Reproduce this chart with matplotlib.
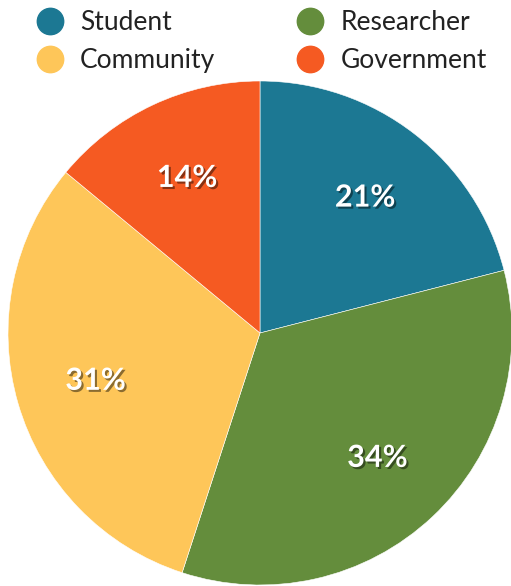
import matplotlib.pyplot as plt
import matplotlib.patheffects as pe
from matplotlib.lines import Line2D

categories = ['Student', 'Researcher', 'Community', 'Government']
shares = [21, 34, 31, 14]
colors = ['#1c7893', '#648d3c', '#fec659', '#f55a22']

plt.rcParams['font.family'] = ['Lato', 'DejaVu Sans']

fig = plt.figure(figsize=(5.11, 5.86), dpi=100)
ax = fig.add_axes([8 / 511, 1 / 586, 504 / 511, 504 / 586])

wedges, texts, autotexts = ax.pie(
    shares, colors=colors, startangle=90, counterclock=False,
    autopct='%d%%', pctdistance=0.68, radius=1.0,
    wedgeprops=dict(linewidth=0.4, edgecolor='white'),
    textprops=dict(color='white', fontsize=22, fontweight='bold'))
for t in autotexts:
    t.set_path_effects([pe.SimplePatchShadow(offset=(1.5, -1.5), shadow_rgbFace='black', alpha=0.45),
                        pe.Normal()])
ax.set_xlim(-1, 1)
ax.set_ylim(-1, 1)

# legend in two columns across the top
handles = [Line2D([], [], marker='o', linestyle='', markersize=19,
                  markerfacecolor=c, markeredgecolor=c) for c in colors]
order = [0, 2, 1, 3]
leg = fig.legend([handles[i] for i in order], [categories[i] for i in order],
                 ncol=2, loc='upper left', bbox_to_anchor=(34 / 511, 1 - 10 / 586),
                 frameon=False, fontsize=19, handletextpad=0.55,
                 columnspacing=3.0, labelspacing=0.5, handlelength=1.2,
                 borderpad=0, borderaxespad=0)
for t in leg.get_texts():
    t.set_color('#222222')

fig.savefig('out.png', dpi=100)
